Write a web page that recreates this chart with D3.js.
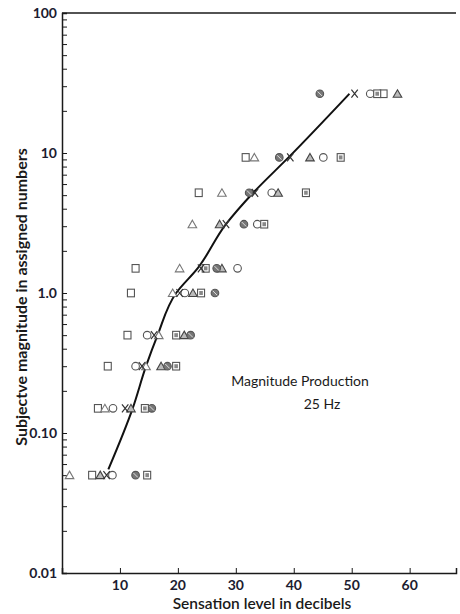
<!DOCTYPE html>
<html>
<head>
<meta charset="utf-8">
<script src="https://cdn.jsdelivr.net/npm/d3@7"></script>
<style>
  body { margin: 0; background: #fff; }
  svg { display: block; }
</style>
</head>
<body>
<div id="chart"></div>
<script>
// stimulus levels (assigned numbers), one row per level
var levels = [0.05, 0.15, 0.3, 0.5, 1.0, 1.5, 3.1, 5.2, 9.3, 26.5];

// sensation level (dB) for each symbol at each level, null = not visible
var squareDb   = [5.2, 6.2, 7.9, 11.3, 11.9, 12.7, null, 23.6, 31.7, 55.5];
var triangleDb = [1.3, 7.4, 14.5, 16.7, 19.1, 20.3, 22.5, 27.6, 33.2, null];
var circleDb   = [8.7, 8.8, 12.7, 14.7, 21.2, 30.3, 33.7, 36.2, 45.1, 53.2];
var crossDb    = [7.7, 10.9, 13.8, 15.9, 20.3, 24.0, 28.3, 33.3, 39.4, 50.5];
var shadedTriDb = [6.6, 11.9, 17.1, 21.1, 22.6, 27.6, 27.2, 37.3, 42.8, 57.9];
var hatchedDb  = [12.7, 15.5, 18.2, 22.2, 26.4, 26.7, 31.4, 32.3, 37.5, 44.5];
var dotSquareDb = [14.7, 14.3, 19.7, 19.7, 24.0, 24.8, 34.9, 42.1, 48.1, 54.4];

// fitted curve
var curveDb  = [8.0, 12.2, 14.5, 16.5, 19.7, 23.4, 28.3, 33.0, 39.1, 49.6];
var curveVal = [0.055, 0.15, 0.3, 0.5, 1.0, 1.5, 3.1, 5.2, 9.3, 26.5];

var xTicks = [10, 20, 30, 40, 50, 60];
var yTicks = [0.01, 0.1, 1, 10, 100];
var yTickLabels = ["0.01", "0.10", "1.0", "10", "100"];

var width = 460, height = 614;
var ink = "#1a1a1a", markInk = "#555";

var svg = d3.select("#chart").append("svg")
  .attr("width", width)
  .attr("height", height);

var x = d3.scaleLinear().domain([0, 68]).range([62, 456]);
var y = d3.scaleLog().domain([0.01, 100]).range([573, 13]);

// top frame line
svg.append("line").attr("x1", x(0)).attr("x2", x(68)).attr("y1", y(100)).attr("y2", y(100))
  .attr("stroke", ink).attr("stroke-width", 1.5);

// y axis with inner ticks (major + minor)
var minor = [];
[0.01, 0.1, 1, 10].forEach(function (d) {
  for (var k = 2; k <= 9; k++) minor.push(d * k);
});
var yAxis = d3.axisRight(y).tickValues(yTicks.concat(minor)).tickSize(5).tickFormat("");
var gy = svg.append("g").attr("transform", "translate(" + x(0) + ",0)").call(yAxis);
gy.select(".domain").attr("stroke", ink).attr("stroke-width", 1.5);
gy.selectAll(".tick line").attr("stroke", ink).attr("stroke-width", 1);

svg.selectAll(".ylab").data(yTicks).enter().append("text")
  .attr("class", "ylab")
  .attr("x", 57)
  .attr("y", function (d) { return y(d); })
  .attr("dy", "0.35em")
  .attr("text-anchor", "end")
  .attr("font-family", "Lato, 'Open Sans', sans-serif")
  .attr("font-weight", "bold")
  .attr("font-size", 14)
  .attr("fill", "#1c1c30")
  .text(function (d, i) { return yTickLabels[i]; });

// x axis with inner ticks
var xAxis = d3.axisTop(x).tickValues(xTicks).tickSize(5).tickFormat("");
var gx = svg.append("g").attr("transform", "translate(0," + y(0.01) + ")").call(xAxis);
gx.select(".domain").attr("stroke", ink).attr("stroke-width", 1.5);
gx.selectAll(".tick line").attr("stroke", ink).attr("stroke-width", 1);

svg.selectAll(".xlab").data(xTicks).enter().append("text")
  .attr("class", "xlab")
  .attr("x", function (d) { return x(d); })
  .attr("y", 590)
  .attr("text-anchor", "middle")
  .attr("font-family", "Lato, 'Open Sans', sans-serif")
  .attr("font-weight", "bold")
  .attr("font-size", 14)
  .attr("fill", "#1c1c30")
  .text(function (d) { return d; });

// axis titles
svg.append("text")
  .attr("x", 262).attr("y", 609)
  .attr("text-anchor", "middle")
  .attr("font-family", "Lato, 'Open Sans', sans-serif")
  .attr("font-weight", 600)
  .attr("font-size", 15.5)
  .attr("fill", ink)
  .text("Sensation level in decibels");

svg.append("text")
  .attr("transform", "translate(27,297) rotate(-90)")
  .attr("text-anchor", "middle")
  .attr("font-family", "Lato, 'Open Sans', sans-serif")
  .attr("font-weight", "bold")
  .attr("font-size", 16)
  .attr("fill", ink)
  .text("Subjectve magnitude in assigned numbers");

// annotation
svg.append("text")
  .attr("x", 300).attr("y", 386)
  .attr("text-anchor", "middle")
  .attr("font-family", "Lato, 'Open Sans', sans-serif")
  .attr("font-size", 14)
  .attr("fill", ink)
  .text("Magnitude Production");
svg.append("text")
  .attr("x", 322).attr("y", 409)
  .attr("text-anchor", "middle")
  .attr("font-family", "Lato, 'Open Sans', sans-serif")
  .attr("font-size", 14)
  .attr("fill", ink)
  .text("25 Hz");

// curve
var line = d3.line()
  .x(function (d) { return x(d[0]); })
  .y(function (d) { return y(d[1]); })
  .curve(d3.curveMonotoneY);
svg.append("path")
  .datum(d3.zip(curveDb, curveVal))
  .attr("d", line)
  .attr("fill", "none")
  .attr("stroke", "#111")
  .attr("stroke-width", 2);

// markers
function points(dbs) {
  var out = [];
  dbs.forEach(function (d, i) { if (d !== null) out.push([d, levels[i]]); });
  return out;
}

function drawSeries(dbs, kind) {
  var g = svg.append("g").attr("class", kind);
  var sel = g.selectAll("g").data(points(dbs)).enter().append("g")
    .attr("transform", function (d) { return "translate(" + x(d[0]) + "," + y(d[1]) + ")"; });
  if (kind === "square" || kind === "dotsquare") {
    sel.append("rect").attr("x", -3.5).attr("y", -3.8).attr("width", 7).attr("height", 7.6)
      .attr("fill", "#fff").attr("stroke", markInk).attr("stroke-width", 1.1);
    if (kind === "dotsquare") {
      sel.append("rect").attr("x", -1.8).attr("y", -2).attr("width", 3.6).attr("height", 4)
        .attr("fill", "#888");
    }
  } else if (kind === "triangle" || kind === "shadedtri") {
    sel.append("path").attr("d", "M0,-4L4.3,3.5L-4.3,3.5Z")
      .attr("fill", kind === "shadedtri" ? "#bbb" : "#fff")
      .attr("stroke", kind === "shadedtri" ? "#444" : "#777")
      .attr("stroke-width", 1.1);
  } else if (kind === "circle" || kind === "hatched") {
    sel.append("circle").attr("r", 3.8)
      .attr("fill", kind === "hatched" ? "#777" : "#fff")
      .attr("stroke", markInk).attr("stroke-width", 1.1);
    if (kind === "hatched") {
      sel.append("line").attr("x1", -2.2).attr("y1", -2.2).attr("x2", 2.2).attr("y2", 2.2)
        .attr("stroke", "#ddd").attr("stroke-width", 1);
    }
  } else if (kind === "cross") {
    sel.append("path").attr("d", "M-3.2,-4L3.2,4M3.2,-4L-3.2,4")
      .attr("stroke", "#333").attr("stroke-width", 1.2).attr("fill", "none");
  }
}

drawSeries(squareDb, "square");
drawSeries(triangleDb, "triangle");
drawSeries(circleDb, "circle");
drawSeries(shadedTriDb, "shadedtri");
drawSeries(hatchedDb, "hatched");
drawSeries(dotSquareDb, "dotsquare");
drawSeries(crossDb, "cross");
</script>
</body>
</html>
